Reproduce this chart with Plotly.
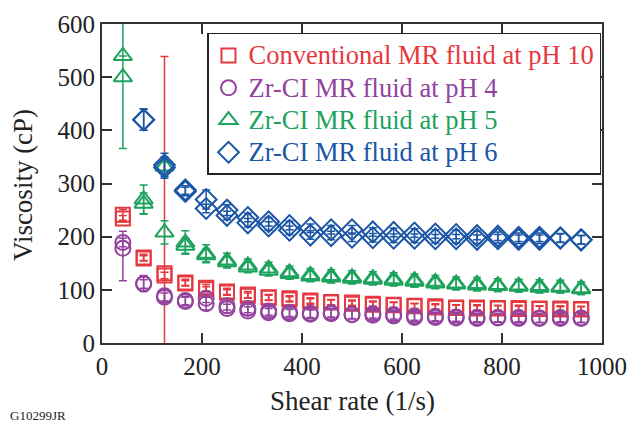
import plotly.graph_objects as go

shear_rate = [41.7, 83.3, 125, 166.7, 208.3, 250, 291.7, 333.3, 375, 416.7, 458.3, 500,
              541.7, 583.3, 625, 666.7, 708.3, 750, 791.7, 833.3, 875, 916.7, 958.3]

# Conventional MR fluid at pH 10 (two runs)
red_a = [241, 161, 131, 114, 104, 97, 91, 86, 84, 80, 77, 76, 74, 72, 70, 69, 67, 67, 66, 66, 65, 65, 64]
red_b = [234, 159, 127, 112, 101, 95, 89, 85, 82, 78, 76, 74, 72, 71, 69, 67, 66, 65, 65, 64, 64, 63, 63]
red_err_a = [10, 6, 408, 6, 6, 6, 6, 5, 5, 5, 5, 5, 5, 5, 5, 5, 5, 5, 5, 5, 5, 5, 5]
red_err_b = [6, 5, 6, 5, 5, 5, 5, 5, 5, 5, 5, 5, 5, 5, 5, 5, 5, 5, 5, 5, 5, 5, 5]

# Zr-CI MR fluid at pH 4
pur_a = [189, 112, 89, 80, 84, 70, 65, 60, 58, 56, 57, 54, 55, 53, 51, 50, 49, 48, 48, 48, 47, 48, 47]
pur_b = [178, 111, 86, 78, 74, 65, 60, 57, 55, 54, 55, 53, 52, 51, 48, 48, 47, 46, 47, 46, 46, 46, 46]
pur_err_a = [8, 15, 10, 8, 8, 8, 8, 8, 8, 8, 8, 8, 8, 8, 8, 8, 8, 8, 8, 8, 8, 8, 8]
pur_err_b_plus = [32, 8, 8, 8, 12, 8, 8, 8, 8, 8, 8, 8, 8, 8, 8, 8, 8, 8, 8, 8, 8, 8, 8]
pur_err_b_minus = [61, 8, 8, 8, 12, 8, 8, 8, 8, 8, 8, 8, 8, 8, 8, 8, 8, 8, 8, 8, 8, 8, 8]

# Zr-CI MR fluid at pH 5
grn_a = [540, 270, 332, 189, 168, 155, 146, 140, 133, 128, 126, 124, 122, 120, 118, 115, 112, 111, 109, 108, 107, 106, 103]
grn_b = [500, 262, 208, 183, 165, 152, 142, 136, 130, 125, 123, 121, 119, 117, 115, 112, 110, 108, 107, 106, 104, 104, 101]
grn_err_a = [0, 27, 8, 22, 17, 14, 12, 12, 12, 12, 12, 12, 12, 12, 12, 12, 12, 12, 12, 12, 12, 12, 12]
grn_err_b = [134, 20, 22, 14, 12, 10, 10, 10, 10, 10, 10, 10, 10, 10, 10, 10, 10, 10, 10, 10, 10, 10, 10]

# Zr-CI MR fluid at pH 6
blu_a = [None, 420, 335, 288, 270, 250, 236, 228, 221, 216, 213, 213, 209, 208, 207, 205, 204, 202, 201, 199, 199, 198, 194]
blu_b = [None, 420, 330, 285, 253, 240, 226, 220, 212, 203, 202, 199, 198, 197, 197, 196, 196, 195, 196, 195, 195, 197, 194]
blu_err_a = [0, 20, 22, 8, 18, 10, 8, 8, 8, 8, 8, 8, 8, 8, 8, 8, 8, 8, 8, 8, 8, 8, 8]
blu_err_b = [0, 20, 20, 8, 8, 8, 8, 8, 8, 8, 8, 8, 8, 8, 8, 8, 8, 8, 8, 8, 8, 8, 8]

x_ticks = [0, 200, 400, 600, 800, 1000]
y_ticks = [0, 100, 200, 300, 400, 500, 600]

names = ["Conventional MR fluid at pH 10", "Zr-CI MR fluid at pH 4",
         "Zr-CI MR fluid at pH 5", "Zr-CI MR fluid at pH 6"]
colors = ["#e5383f", "#93439e", "#1ea35e", "#1b56a6"]
symbols = ["square-open", "circle-open", "triangle-up-open", "diamond-open"]
sizes = [14, 15, 16, 16]

series = [
    (red_a, red_b, red_err_a, red_err_a, red_err_b, red_err_b),
    (pur_a, pur_b, pur_err_a, pur_err_a, pur_err_b_plus, pur_err_b_minus),
    (grn_a, grn_b, grn_err_a, grn_err_a, grn_err_b, grn_err_b),
    (blu_a, blu_b, blu_err_a, blu_err_a, blu_err_b, blu_err_b),
]

FONT = "Liberation Serif"

fig = go.Figure()
for i, (a, b, ea_p, ea_m, eb_p, eb_m) in enumerate(series):
    fig.add_trace(go.Scatter(
        x=shear_rate + shear_rate, y=a + b, mode="markers",
        name=f'<span style="color:{colors[i]};font-size:26.5px">{names[i]}</span>',
        marker=dict(symbol=symbols[i], size=sizes[i], color=colors[i],
                    line=dict(width=2, color=colors[i])),
        error_y=dict(type="data", array=ea_p + eb_p, arrayminus=ea_m + eb_m,
                     symmetric=False, color=colors[i], thickness=1.5, width=4),
    ))

axis_common = dict(showline=True, linecolor="#333", linewidth=2, mirror="ticks",
                   ticks="inside", ticklen=10, tickwidth=1.5, tickcolor="#333",
                   showgrid=False, zeroline=False, automargin=False,
                   tickfont=dict(family=FONT, size=25, color="#222"))

fig.update_layout(
    width=631, height=425,
    margin=dict(l=102, r=29, t=24, b=82),
    paper_bgcolor="white", plot_bgcolor="white",
    font=dict(family=FONT, color="#222"),
    xaxis=dict(range=[0, 1000], tickvals=x_ticks, **axis_common),
    yaxis=dict(range=[0, 600], tickvals=y_ticks, **axis_common),
    legend=dict(x=0.21, y=0.972, xanchor="left", yanchor="top",
                bgcolor="white", bordercolor="#222", borderwidth=1.5,
                font=dict(family=FONT, size=22.5),
                itemwidth=30, tracegroupgap=0),
    showlegend=True,
)

# axis titles
fig.add_annotation(text="Shear rate (1/s)", xref="paper", yref="paper",
                   x=0.5, y=(343 - 401) / 319, xanchor="center", yanchor="middle",
                   showarrow=False, font=dict(family=FONT, size=27, color="#222"))
fig.add_annotation(text="Viscosity (cP)", xref="paper", yref="paper",
                   x=(23 - 102) / 500, y=(343 - 185) / 319, xanchor="center", yanchor="middle",
                   textangle=-90, showarrow=False, font=dict(family=FONT, size=27, color="#222"))
fig.add_annotation(text="G10299JR", xref="paper", yref="paper",
                   x=(8 - 102) / 500, y=(343 - 415) / 319, xanchor="left", yanchor="middle",
                   showarrow=False, font=dict(family=FONT, size=13, color="#222"))

fig.write_html("out.html", config={"displayModeBar": False},
               post_script="document.body.style.margin='0';document.body.style.overflow='hidden';")
